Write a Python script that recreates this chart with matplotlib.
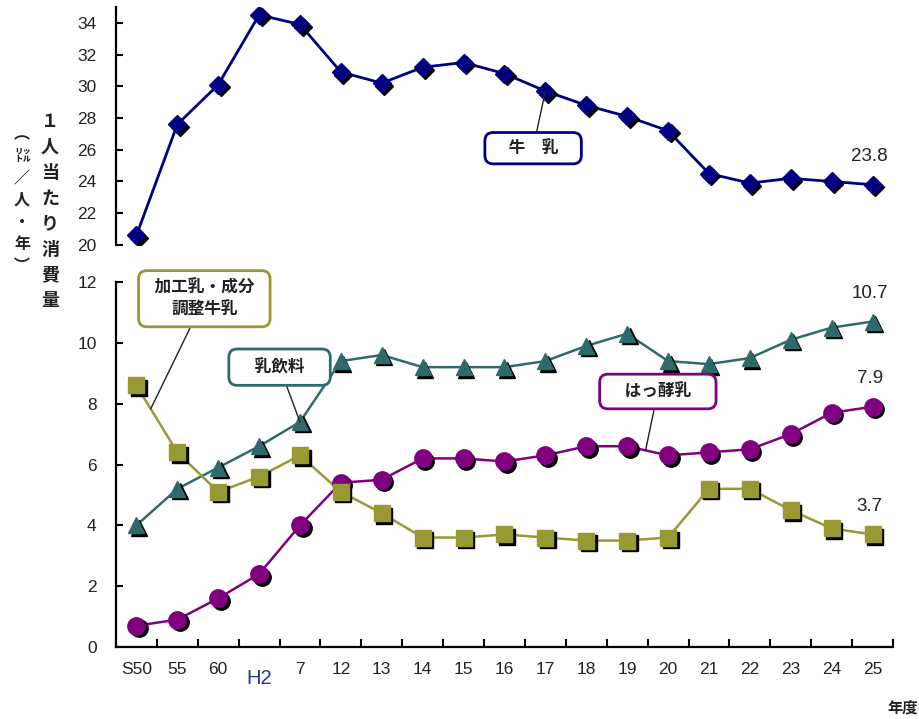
import numpy as np
import matplotlib
matplotlib.use('Agg')
import matplotlib.pyplot as plt
import matplotlib.transforms as mtransforms

years = ['S50', '55', '60', 'H2', '7', '12', '13', '14', '15', '16',
         '17', '18', '19', '20', '21', '22', '23', '24', '25']
milk = [20.6, 27.6, 30.1, 34.5, 33.9, 30.9, 30.2, 31.2, 31.5, 30.8,
        29.7, 28.8, 28.1, 27.2, 24.5, 23.9, 24.2, 24.0, 23.8]
drink = [4.0, 5.2, 5.9, 6.6, 7.4, 9.4, 9.6, 9.2, 9.2, 9.2,
         9.4, 9.9, 10.3, 9.4, 9.3, 9.5, 10.1, 10.5, 10.7]
yogurt = [0.7, 0.9, 1.6, 2.4, 4.0, 5.4, 5.5, 6.2, 6.2, 6.1,
          6.3, 6.6, 6.6, 6.3, 6.4, 6.5, 7.0, 7.7, 7.9]
processed = [8.6, 6.4, 5.1, 5.6, 6.3, 5.1, 4.4, 3.6, 3.6, 3.7,
             3.6, 3.5, 3.5, 3.6, 5.2, 5.2, 4.5, 3.9, 3.7]

NUM_FONT = ['Liberation Sans', 'DejaVu Sans']
JP_FONT = ['Noto Sans CJK JP', 'DejaVu Sans']

C_MILK = '#000080'
C_DRINK = '#2F6A6A'
C_YOG = '#800080'
C_PROC = '#999933'


def plot_series(ax, fig, values, color, marker, ms, lw):
    x = np.arange(len(values))
    shadow = mtransforms.offset_copy(ax.transData, fig=fig, x=2.5, y=-2.5, units='dots')
    ax.plot(x, values, color=color, lw=lw, zorder=2)
    ax.plot(x, values, ls='none', marker=marker, ms=ms, color='black',
            transform=shadow, zorder=3)
    ax.plot(x, values, ls='none', marker=marker, ms=ms, color=color,
            markeredgecolor=color, zorder=4)


def end_label(ax, values, text):
    n = len(values) - 1
    ax.annotate(text, xy=(n, values[n]), xytext=(-2, 20), textcoords='offset points',
                ha='center', va='center', fontsize=13.5, color='#222222',
                family=NUM_FONT)


def callout(ax, text, box_xy, target, color, pad=0.45):
    ax.annotate(text, xy=target, xytext=box_xy, ha='center', va='center',
                fontsize=12, fontweight='bold', family=JP_FONT, color='#222222',
                linespacing=1.25, zorder=6,
                bbox=dict(boxstyle=f'round,pad={pad},rounding_size=0.5', fc='white',
                          ec=color, lw=2),
                arrowprops=dict(arrowstyle='-', color='#222222', lw=1,
                                shrinkA=0, shrinkB=0))


def style_axis(ax):
    for s in ['top', 'right']:
        ax.spines[s].set_visible(False)
    ax.spines['left'].set_linewidth(1.6)
    ax.tick_params(axis='y', direction='in', length=5, width=1.5, pad=14,
                   labelsize=12.5)
    for lab in ax.get_yticklabels():
        lab.set_family(NUM_FONT)
        lab.set_color('#222222')


fig = plt.figure(figsize=(9.19, 7.19), dpi=100)
ax_top = fig.add_axes([0.1262, 0.6593, 0.8455, 0.3310])
ax_bot = fig.add_axes([0.1262, 0.1001, 0.8455, 0.5077])

n = len(years)
for ax in (ax_top, ax_bot):
    ax.set_xlim(-0.5, n - 0.5)
    ax.patch.set_alpha(0)

# upper panel: milk
ax_top.set_ylim(20, 35)
ax_top.set_yticks(np.arange(20, 35, 2))
ax_top.spines['bottom'].set_visible(False)
ax_top.set_xticks([])
style_axis(ax_top)
plot_series(ax_top, fig, milk, C_MILK, 'D', 9.5, 2)
end_label(ax_top, milk, '23.8')
callout(ax_top, '　牛　乳　', (9.7, 26.1), (10, milk[10]), C_MILK, pad=0.4)

# lower panel
ax_bot.set_ylim(0, 12)
ax_bot.set_yticks(np.arange(0, 13, 2))
style_axis(ax_bot)
ax_bot.spines['bottom'].set_linewidth(1.6)
ax_bot.set_xticks(np.arange(n))
ax_bot.set_xticklabels(years)
ax_bot.set_xticks(np.arange(n + 1) - 0.5, minor=True)
ax_bot.tick_params(axis='x', which='major', length=0, pad=11, labelsize=12.5)
ax_bot.tick_params(axis='x', which='minor', direction='in', length=6, width=1.5)
for lab in ax_bot.get_xticklabels():
    lab.set_family(NUM_FONT)
    lab.set_color('#222222')
h2 = ax_bot.get_xticklabels()[3]
h2.set_fontsize(14.5)
h2.set_color('#1F3A8A')
h2.set_y(-0.018)

plot_series(ax_bot, fig, drink, C_DRINK, '^', 12, 1.8)
plot_series(ax_bot, fig, yogurt, C_YOG, 'o', 12.5, 1.8)
plot_series(ax_bot, fig, processed, C_PROC, 's', 11, 1.8)

end_label(ax_bot, drink, '10.7')
end_label(ax_bot, yogurt, '7.9')
end_label(ax_bot, processed, '3.7')

t = 0.35
callout(ax_bot, '  加工乳・成分  \n調整牛乳', (1.66, 11.45),
        (t, processed[0] + t * (processed[1] - processed[0])), C_PROC, pad=0.5)
callout(ax_bot, '　乳飲料　', (3.5, 9.2), (4, drink[4]), C_DRINK, pad=0.55)
t = 0.45
callout(ax_bot, '　はっ酵乳　', (12.75, 8.4),
        (12 + t, yogurt[12] + t * (yogurt[13] - yogurt[12])), C_YOG, pad=0.5)

# vertical axis title
fig.text(50 / 919, 1 - 211 / 719, '\n'.join('１人当たり消費量'), ha='center', va='center',
         fontsize=13, fontweight='bold', family=JP_FONT, color='#222222', linespacing=1.44)
fig.text(22 / 919, 1 - 200 / 719, '\n'.join('︵㍑／人・年︶'), ha='center', va='center',
         fontsize=11.5, fontweight='bold', family=JP_FONT, color='#222222', linespacing=1.45)
fig.text(887 / 919, 1 - 708 / 719, '年度', ha='left', va='center',
         fontsize=11, fontweight='bold', family=JP_FONT, color='#222222')

fig.savefig('out.png', dpi=100)
